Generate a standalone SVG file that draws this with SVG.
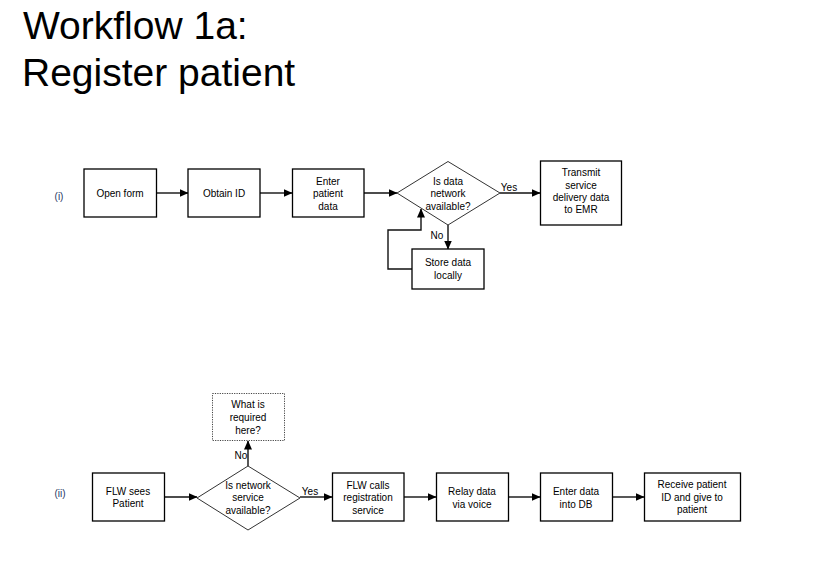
<svg xmlns="http://www.w3.org/2000/svg" width="817" height="572" viewBox="0 0 817 572">
<style>
.bg{fill:#fff}
.box{fill:#fff;stroke:#000;stroke-width:1.3}
.dot{fill:#fff;stroke:#444;stroke-width:1;stroke-dasharray:1.2 1.2}
.dia{fill:#fff;stroke:#333;stroke-width:1}
.t{font-family:"Liberation Sans",Arial,sans-serif;font-size:10px;fill:#000;text-anchor:middle}
.lbl{font-family:"Liberation Sans",Arial,sans-serif;font-size:10px;fill:#1f3864;text-anchor:middle}
.title{font-family:"Liberation Sans",Arial,sans-serif;font-size:39px;fill:#000}
.c{fill:none;stroke:#111;stroke-width:1.4}
</style>
<defs>
<marker id="ah" markerWidth="9" markerHeight="8" refX="8.5" refY="4" orient="auto" markerUnits="userSpaceOnUse">
<path d="M0,0 L9,4 L0,8 z" fill="#000"/>
</marker>
</defs>
<rect class="bg" x="0" y="0" width="817" height="572"/>
<g id="title">
<text class="title" x="23" y="39">Workflow 1a:</text>
<text class="title" x="22" y="86">Register patient</text>
</g>
<text class="lbl" x="59" y="200">(i)</text>
<text class="lbl" x="60" y="497">(ii)</text>

<g id="connectors">
<line class="c" x1="157" y1="193" x2="188" y2="193" marker-end="url(#ah)"/>
<line class="c" x1="260" y1="193" x2="292" y2="193" marker-end="url(#ah)"/>
<line class="c" x1="364" y1="193" x2="397" y2="193" marker-end="url(#ah)"/>
<line class="c" x1="500" y1="193" x2="540" y2="193" marker-end="url(#ah)"/>
<line class="c" x1="448" y1="225" x2="448" y2="249" marker-end="url(#ah)"/>
<polyline class="c" points="412,269 388,269 388,230 421,230 421,209" marker-end="url(#ah)"/>
<text class="t" x="509" y="190.5">Yes</text>
<text class="t" x="437" y="238.5">No</text>

<line class="c" x1="164" y1="497" x2="197" y2="497" marker-end="url(#ah)"/>
<line class="c" x1="300" y1="497" x2="332" y2="497" marker-end="url(#ah)"/>
<line class="c" x1="248" y1="466" x2="248" y2="441" marker-end="url(#ah)"/>
<line class="c" x1="404" y1="497" x2="436" y2="497" marker-end="url(#ah)"/>
<line class="c" x1="508" y1="497" x2="540" y2="497" marker-end="url(#ah)"/>
<line class="c" x1="612" y1="497" x2="644" y2="497" marker-end="url(#ah)"/>
<text class="t" x="310" y="494.5">Yes</text>
<text class="t" x="241" y="459">No</text>
</g>

<g id="open-form">
<rect class="box" x="84" y="169" width="72.5" height="48"/>
<text class="t" x="120" y="197">Open form</text>
</g>
<g id="obtain-id">
<rect class="box" x="188" y="169" width="72" height="48"/>
<text class="t" x="224" y="197">Obtain ID</text>
</g>
<g id="enter-patient-data">
<rect class="box" x="292.5" y="169" width="71.5" height="48"/>
<text class="t" x="328" y="184.5">Enter</text>
<text class="t" x="328" y="197">patient</text>
<text class="t" x="328" y="209.5">data</text>
</g>
<g id="is-data-network">
<polygon class="dia" points="397,193 448,161.5 500,193 448,225"/>
<text class="t" x="448" y="184.5">Is data</text>
<text class="t" x="448" y="197">network</text>
<text class="t" x="448" y="209.5">available?</text>
</g>
<g id="transmit">
<rect class="box" x="540.5" y="161" width="81" height="64"/>
<text class="t" x="581" y="176">Transmit</text>
<text class="t" x="581" y="188.5">service</text>
<text class="t" x="581" y="200.5">delivery data</text>
<text class="t" x="581" y="212.5">to EMR</text>
</g>
<g id="store-data-locally">
<rect class="box" x="412" y="249" width="72" height="40"/>
<text class="t" x="448" y="266">Store data</text>
<text class="t" x="448" y="279">locally</text>
</g>

<g id="what-is-required">
<rect class="dot" x="212.5" y="393.5" width="72" height="47"/>
<text class="t" x="248" y="408">What is</text>
<text class="t" x="248" y="421">required</text>
<text class="t" x="248" y="433.5">here?</text>
</g>
<g id="flw-sees-patient">
<rect class="box" x="92.5" y="473" width="72" height="48"/>
<text class="t" x="128" y="495">FLW sees</text>
<text class="t" x="128" y="507">Patient</text>
</g>
<g id="is-network-service">
<polygon class="dia" points="197,498 248,466 300,498 248,530"/>
<text class="t" x="248" y="488.5">Is network</text>
<text class="t" x="248" y="501">service</text>
<text class="t" x="248" y="514">available?</text>
</g>
<g id="flw-calls">
<rect class="box" x="332.5" y="473" width="71.5" height="48"/>
<text class="t" x="368" y="488.5">FLW calls</text>
<text class="t" x="368" y="501">registration</text>
<text class="t" x="368" y="513.5">service</text>
</g>
<g id="relay-data">
<rect class="box" x="436.5" y="473" width="72" height="48"/>
<text class="t" x="472" y="495">Relay data</text>
<text class="t" x="472" y="507.5">via voice</text>
</g>
<g id="enter-data-db">
<rect class="box" x="540.5" y="473" width="72" height="48"/>
<text class="t" x="576" y="495">Enter data</text>
<text class="t" x="576" y="507.5">into DB</text>
</g>
<g id="receive-patient-id">
<rect class="box" x="644.5" y="473" width="96" height="48"/>
<text class="t" x="692" y="488">Receive patient</text>
<text class="t" x="692" y="500.5">ID and give to</text>
<text class="t" x="692" y="513">patient</text>
</g>
</svg>
